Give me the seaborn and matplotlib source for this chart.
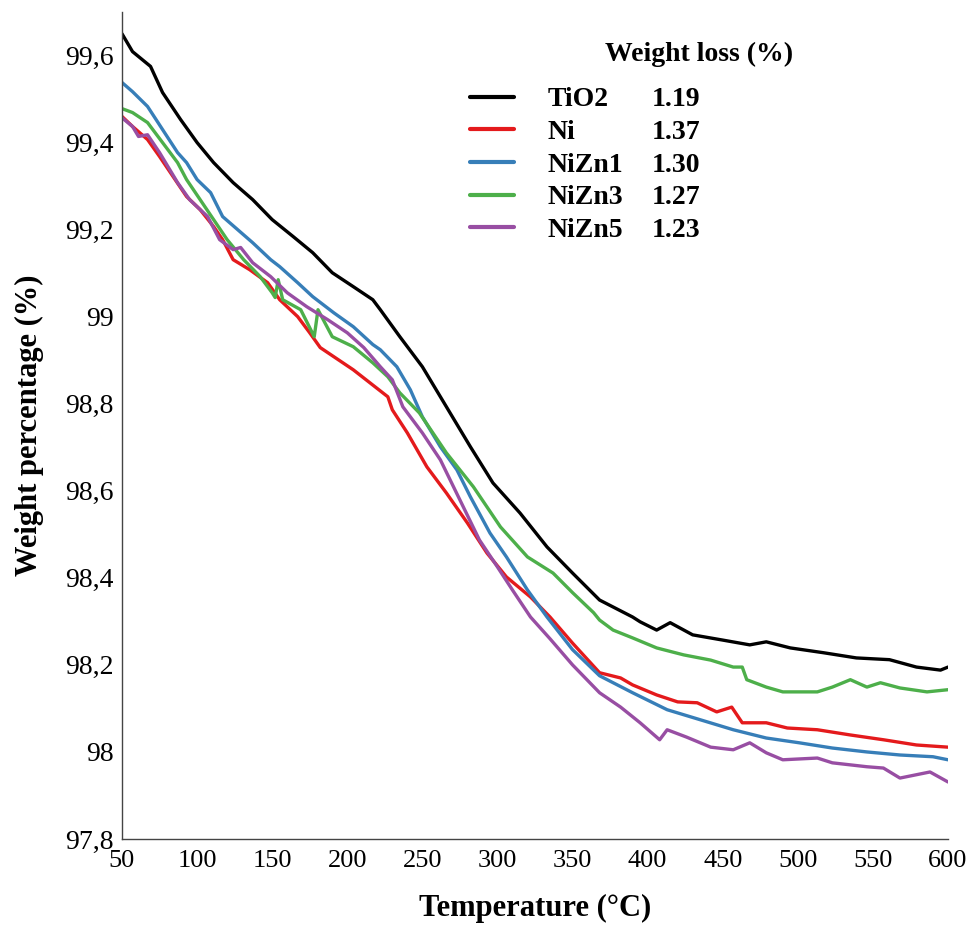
import numpy as np
import pandas as pd
import matplotlib
matplotlib.use("Agg")
import matplotlib.pyplot as plt
import seaborn as sns
from matplotlib.ticker import MultipleLocator, FixedLocator, FixedFormatter
from matplotlib.lines import Line2D

# ---------------- data ----------------
samples = ["TiO2", "Ni", "NiZn1", "NiZn3", "NiZn5"]
weight_loss = ["1.19", "1.37", "1.30", "1.27", "1.23"]
colors = ["#000000", "#e41a1c", "#377eb8", "#4daf4a", "#984ea3"]

tio2_T = [50, 57, 69, 77, 89, 100, 111, 124, 137, 150, 164, 177, 190, 204, 217, 222, 235, 250, 266,
          282, 297, 315, 333, 350, 368, 390, 395, 406, 415, 430, 450, 468, 479, 495, 517, 539, 561,
          579, 595, 600]
tio2_W = [99.65, 99.609, 99.575, 99.515, 99.453, 99.40, 99.354, 99.308, 99.269, 99.223, 99.184,
          99.147, 99.101, 99.069, 99.039, 99.016, 98.954, 98.885, 98.793, 98.701, 98.618, 98.549,
          98.471, 98.411, 98.349, 98.31, 98.299, 98.28, 98.297, 98.269, 98.257, 98.246, 98.253,
          98.239, 98.228, 98.216, 98.212, 98.195, 98.188, 98.195]

ni_T = [50, 57, 67, 75, 84, 93, 102, 111, 117, 124, 135, 147, 155, 167, 175, 182, 204, 227, 230,
        240, 253, 266, 280, 293, 306, 322, 335, 350, 368, 382, 390, 406, 420, 433, 446, 456, 463,
        479, 493, 513, 535, 557, 579, 600]
ni_W = [99.46, 99.437, 99.407, 99.368, 99.322, 99.276, 99.246, 99.207, 99.177, 99.131, 99.108,
        99.078, 99.039, 99.0, 98.963, 98.929, 98.878, 98.816, 98.786, 98.733, 98.655, 98.595,
        98.526, 98.457, 98.402, 98.356, 98.31, 98.25, 98.182, 98.17, 98.154, 98.131, 98.115,
        98.113, 98.092, 98.103, 98.067, 98.067, 98.055, 98.051, 98.039, 98.028, 98.016, 98.011]

nizn1_T = [50, 57, 67, 77, 87, 93, 100, 109, 117, 127, 137, 149, 155, 167, 177, 191, 204, 217,
           222, 233, 242, 250, 262, 273, 282, 295, 306, 320, 333, 350, 368, 390, 413, 435, 457,
           479, 501, 523, 546, 568, 590, 600]
nizn1_W = [99.538, 99.517, 99.483, 99.43, 99.377, 99.354, 99.315, 99.285, 99.23, 99.20, 99.17,
           99.131, 99.115, 99.078, 99.046, 99.009, 98.977, 98.936, 98.924, 98.885, 98.832, 98.77,
           98.701, 98.648, 98.586, 98.503, 98.448, 98.372, 98.31, 98.235, 98.175, 98.136, 98.097,
           98.074, 98.051, 98.032, 98.021, 98.009, 98.0, 97.993, 97.989, 97.982]

nizn3_T = [50, 57, 67, 77, 87, 93, 102, 111, 120, 131, 142, 150, 152, 154, 157, 169, 178, 180.5,
           190, 204, 217, 227, 235, 248, 266, 284, 302, 320, 337, 350, 364, 368, 377, 390, 406,
           424, 442, 457, 463, 466, 479, 490, 513, 523, 535, 546, 555, 568, 586, 600]
nizn3_W = [99.478, 99.469, 99.446, 99.40, 99.354, 99.315, 99.269, 99.223, 99.177, 99.131, 99.092,
           99.055, 99.044, 99.085, 99.039, 99.016, 98.954, 99.016, 98.954, 98.931, 98.894, 98.862,
           98.825, 98.779, 98.687, 98.609, 98.517, 98.448, 98.411, 98.366, 98.32, 98.303, 98.28,
           98.262, 98.239, 98.223, 98.211, 98.195, 98.195, 98.166, 98.149, 98.138, 98.138,
           98.149, 98.166, 98.149, 98.159, 98.147, 98.138, 98.143]

nizn5_T = [50, 57, 61, 67, 75, 87, 95, 107, 115, 124, 129, 137, 149, 160, 173, 187, 200, 211,
           222, 230, 237, 250, 262, 275, 288, 300, 310, 322, 335, 350, 368, 382, 395, 408, 413,
           426, 442, 457, 468, 479, 490, 513, 523, 546, 557, 568, 588, 600]
nizn5_W = [99.457, 99.437, 99.414, 99.418, 99.377, 99.308, 99.269, 99.23, 99.177, 99.154, 99.159,
           99.124, 99.092, 99.055, 99.023, 98.993, 98.963, 98.929, 98.885, 98.855, 98.793, 98.733,
           98.671, 98.579, 98.487, 98.425, 98.372, 98.31, 98.26, 98.20, 98.136, 98.103, 98.067,
           98.028, 98.051, 98.034, 98.011, 98.005, 98.021, 97.998, 97.982, 97.986, 97.975,
           97.966, 97.963, 97.94, 97.954, 97.931]

x_ticks = [50, 100, 150, 200, 250, 300, 350, 400, 450, 500, 550, 600]
y_ticks = [97.8, 98.0, 98.2, 98.4, 98.6, 98.8, 99.0, 99.2, 99.4, 99.6]
y_tick_labels = ["97,8", "98", "98,2", "98,4", "98,6", "98,8", "99", "99,2", "99,4", "99,6"]

# ---------------- build long table ----------------
series = [(tio2_T, tio2_W), (ni_T, ni_W), (nizn1_T, nizn1_W), (nizn3_T, nizn3_W), (nizn5_T, nizn5_W)]
frames = []
for name, (t, w) in zip(samples, series):
    frames.append(pd.DataFrame({"Temperature": t, "Weight": w, "Sample": name}))
df = pd.concat(frames, ignore_index=True)

# ---------------- figure ----------------
sns.set_style("white")
plt.rcParams["font.family"] = ["Liberation Serif", "DejaVu Serif"]
for key in ["text.color", "axes.labelcolor", "xtick.color", "ytick.color"]:
    plt.rcParams[key] = "black"

W, H = 973, 930
fig = plt.figure(figsize=(W / 100, H / 100), dpi=100)
ax = fig.add_axes([122 / W, 1 - 839 / H, (948 - 122) / W, (839 - 12) / H])

sns.lineplot(data=df, x="Temperature", y="Weight", hue="Sample", hue_order=samples,
             palette=dict(zip(samples, colors)), estimator=None, sort=False,
             linewidth=2.4, legend=False, ax=ax)

ax.set_xlim(50, 600)
ax.set_ylim(97.8, 99.7)
ax.xaxis.set_major_locator(FixedLocator(x_ticks))
ax.xaxis.set_minor_locator(MultipleLocator(25))
ax.yaxis.set_major_locator(FixedLocator(y_ticks))
ax.yaxis.set_major_formatter(FixedFormatter(y_tick_labels))
ax.yaxis.set_minor_locator(MultipleLocator(0.1))

for side in ["top", "right"]:
    ax.spines[side].set_visible(False)
for side in ["left", "bottom"]:
    ax.spines[side].set_color("#444444")
    ax.spines[side].set_linewidth(1.0)

ax.tick_params(axis="both", which="both", direction="in", color="#444444", width=1.0,
               labelcolor="black")
ax.tick_params(axis="x", which="major", length=8, pad=8, labelsize=19)
ax.tick_params(axis="x", which="minor", length=4)
ax.tick_params(axis="y", which="major", length=7, pad=6, labelsize=20)
ax.tick_params(axis="y", which="minor", length=4)

ax.set_xlabel("Temperature (°C)", fontsize=22, fontweight="bold", labelpad=16, color="black")
ax.set_ylabel("Weight percentage (%)", fontsize=22, fontweight="bold", labelpad=15, color="black")

# ---------------- legend ----------------
lines = ax.get_lines()[:len(samples)]
handles = [Line2D([0], [0], color=l.get_color(), lw=3.0) for l in lines]
prop = {"family": "Liberation Serif", "weight": "bold", "size": 20}
leg1 = ax.legend(handles, samples, loc="upper left", bbox_to_anchor=(470 / W, 1 - 87 / H),
                 bbox_transform=fig.transFigure, frameon=False, prop=prop,
                 handlelength=1.6, handletextpad=1.2, labelspacing=0.26, borderpad=0,
                 borderaxespad=0, labelcolor="black")
ax.add_artist(leg1)
blank = [Line2D([0], [0], color="none") for _ in samples]
leg2 = ax.legend(blank, weight_loss, loc="upper left", bbox_to_anchor=(652 / W, 1 - 87 / H),
                 bbox_transform=fig.transFigure, frameon=False, prop=prop,
                 handlelength=0, handletextpad=0, labelspacing=0.26, borderpad=0,
                 borderaxespad=0, labelcolor="black")
fig.text(605 / W, 1 - 61 / H, "Weight loss (%)", fontsize=20, fontweight="bold",
         family="Liberation Serif", va="baseline", ha="left", color="black")

fig.savefig("out.png", dpi=100)
